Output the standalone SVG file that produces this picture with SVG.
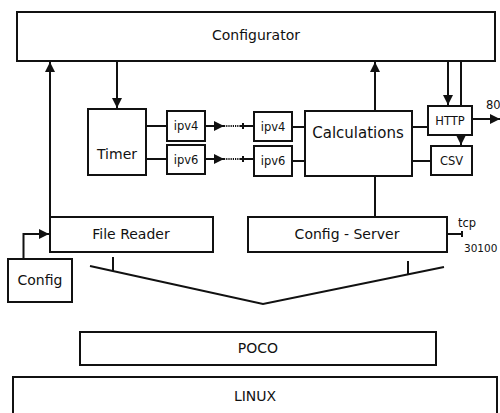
<svg xmlns="http://www.w3.org/2000/svg" width="500" height="413" viewBox="0 0 500 413">
<style>
.b{fill:#fff;stroke:#111;stroke-width:2}
.t{font-family:"DejaVu Sans",sans-serif;font-size:14px;fill:#111;text-anchor:middle;dominant-baseline:central}
.s{font-size:11.5px}
.l{text-anchor:start}
.c{fill:none;stroke:#111;stroke-width:2}
.d{fill:none;stroke:#111;stroke-width:2;stroke-dasharray:1.2 1}
</style>
<defs>
<marker id="a" viewBox="0 0 10 10" refX="10" refY="5" markerWidth="5" markerHeight="5" orient="auto" markerUnits="strokeWidth"><path d="M0,0L10,5L0,10z" fill="#111"/></marker>
</defs>
<rect width="500" height="413" fill="#fff"/>
<g id="connectors">
<path class="c" d="M50,217V62" marker-end="url(#a)"/>
<path class="c" d="M117,61V108" marker-end="url(#a)"/>
<path class="c" d="M146,126H167M146,159H167"/>
<path class="c" d="M205,126H224" marker-end="url(#a)"/>
<path class="d" d="M224,126H240"/>
<path class="c" d="M240,126H254M243,123V129"/>
<path class="c" d="M205,159H224" marker-end="url(#a)"/>
<path class="d" d="M224,159H240"/>
<path class="c" d="M240,159H254M243,156V162"/>
<path class="c" d="M292,127H305M292,161H305"/>
<path class="c" d="M375,111V62" marker-end="url(#a)"/>
<path class="c" d="M375,176V217"/>
<path class="c" d="M412,127H428M412,161H431"/>
<path class="c" d="M448,61V105" marker-end="url(#a)"/>
<path class="c" d="M461,61V106"/>
<path class="c" d="M461,135V145" marker-end="url(#a)"/>
<path class="c" d="M472,119H500" marker-end="url(#a)"/>
<path class="c" d="M23.5,259V234H49" marker-end="url(#a)"/>
<path class="c" d="M447,234H462M462,231V237"/>
<path class="c" d="M90,266L263,304L444,267"/>
<path class="c" d="M113,257V271M408,261V274"/>
</g>
<g id="configurator"><rect class="b" x="17" y="12" width="478" height="49"/><text class="t" x="256" y="35">Configurator</text></g>
<g id="timer"><rect class="b" x="88" y="109" width="58" height="66"/><text class="t" x="117" y="154">Timer</text></g>
<g id="ipv4a"><rect class="b" x="167" y="111" width="38" height="30"/><text class="t s" x="186" y="126">ipv4</text></g>
<g id="ipv6a"><rect class="b" x="167" y="145" width="38" height="29"/><text class="t s" x="186" y="159.5">ipv6</text></g>
<g id="ipv4b"><rect class="b" x="254" y="112" width="38" height="29"/><text class="t s" x="273" y="126.5">ipv4</text></g>
<g id="ipv6b"><rect class="b" x="254" y="146" width="38" height="30"/><text class="t s" x="273" y="161">ipv6</text></g>
<g id="calculations"><rect class="b" x="305" y="111" width="107" height="65"/><text class="t" x="358" y="133" style="font-size:15px">Calculations</text></g>
<g id="http"><rect class="b" x="428" y="106" width="44" height="29"/><text class="t s" x="450" y="120.5">HTTP</text></g>
<g id="csv"><rect class="b" x="431" y="146" width="41" height="29"/><text class="t s" x="451.5" y="160.5">CSV</text></g>
<text class="t s l" x="486" y="105">80</text>
<g id="filereader"><rect class="b" x="50" y="217" width="163" height="35"/><text class="t" x="131" y="234">File Reader</text></g>
<g id="config"><rect class="b" x="8" y="259" width="64" height="43"/><text class="t" x="40" y="280">Config</text></g>
<g id="configserver"><rect class="b" x="248" y="217" width="199" height="35"/><text class="t" x="347" y="234">Config - Server</text></g>
<text class="t s l" x="458" y="223">tcp</text>
<text class="t l" x="464" y="248" style="font-size:10.5px">30100</text>
<g id="poco"><rect class="b" x="80" y="332" width="356" height="33"/><text class="t" x="258" y="348">POCO</text></g>
<g id="linux"><rect class="b" x="13" y="377" width="484" height="50"/><text class="t" x="255" y="396">LINUX</text></g>
</svg>
